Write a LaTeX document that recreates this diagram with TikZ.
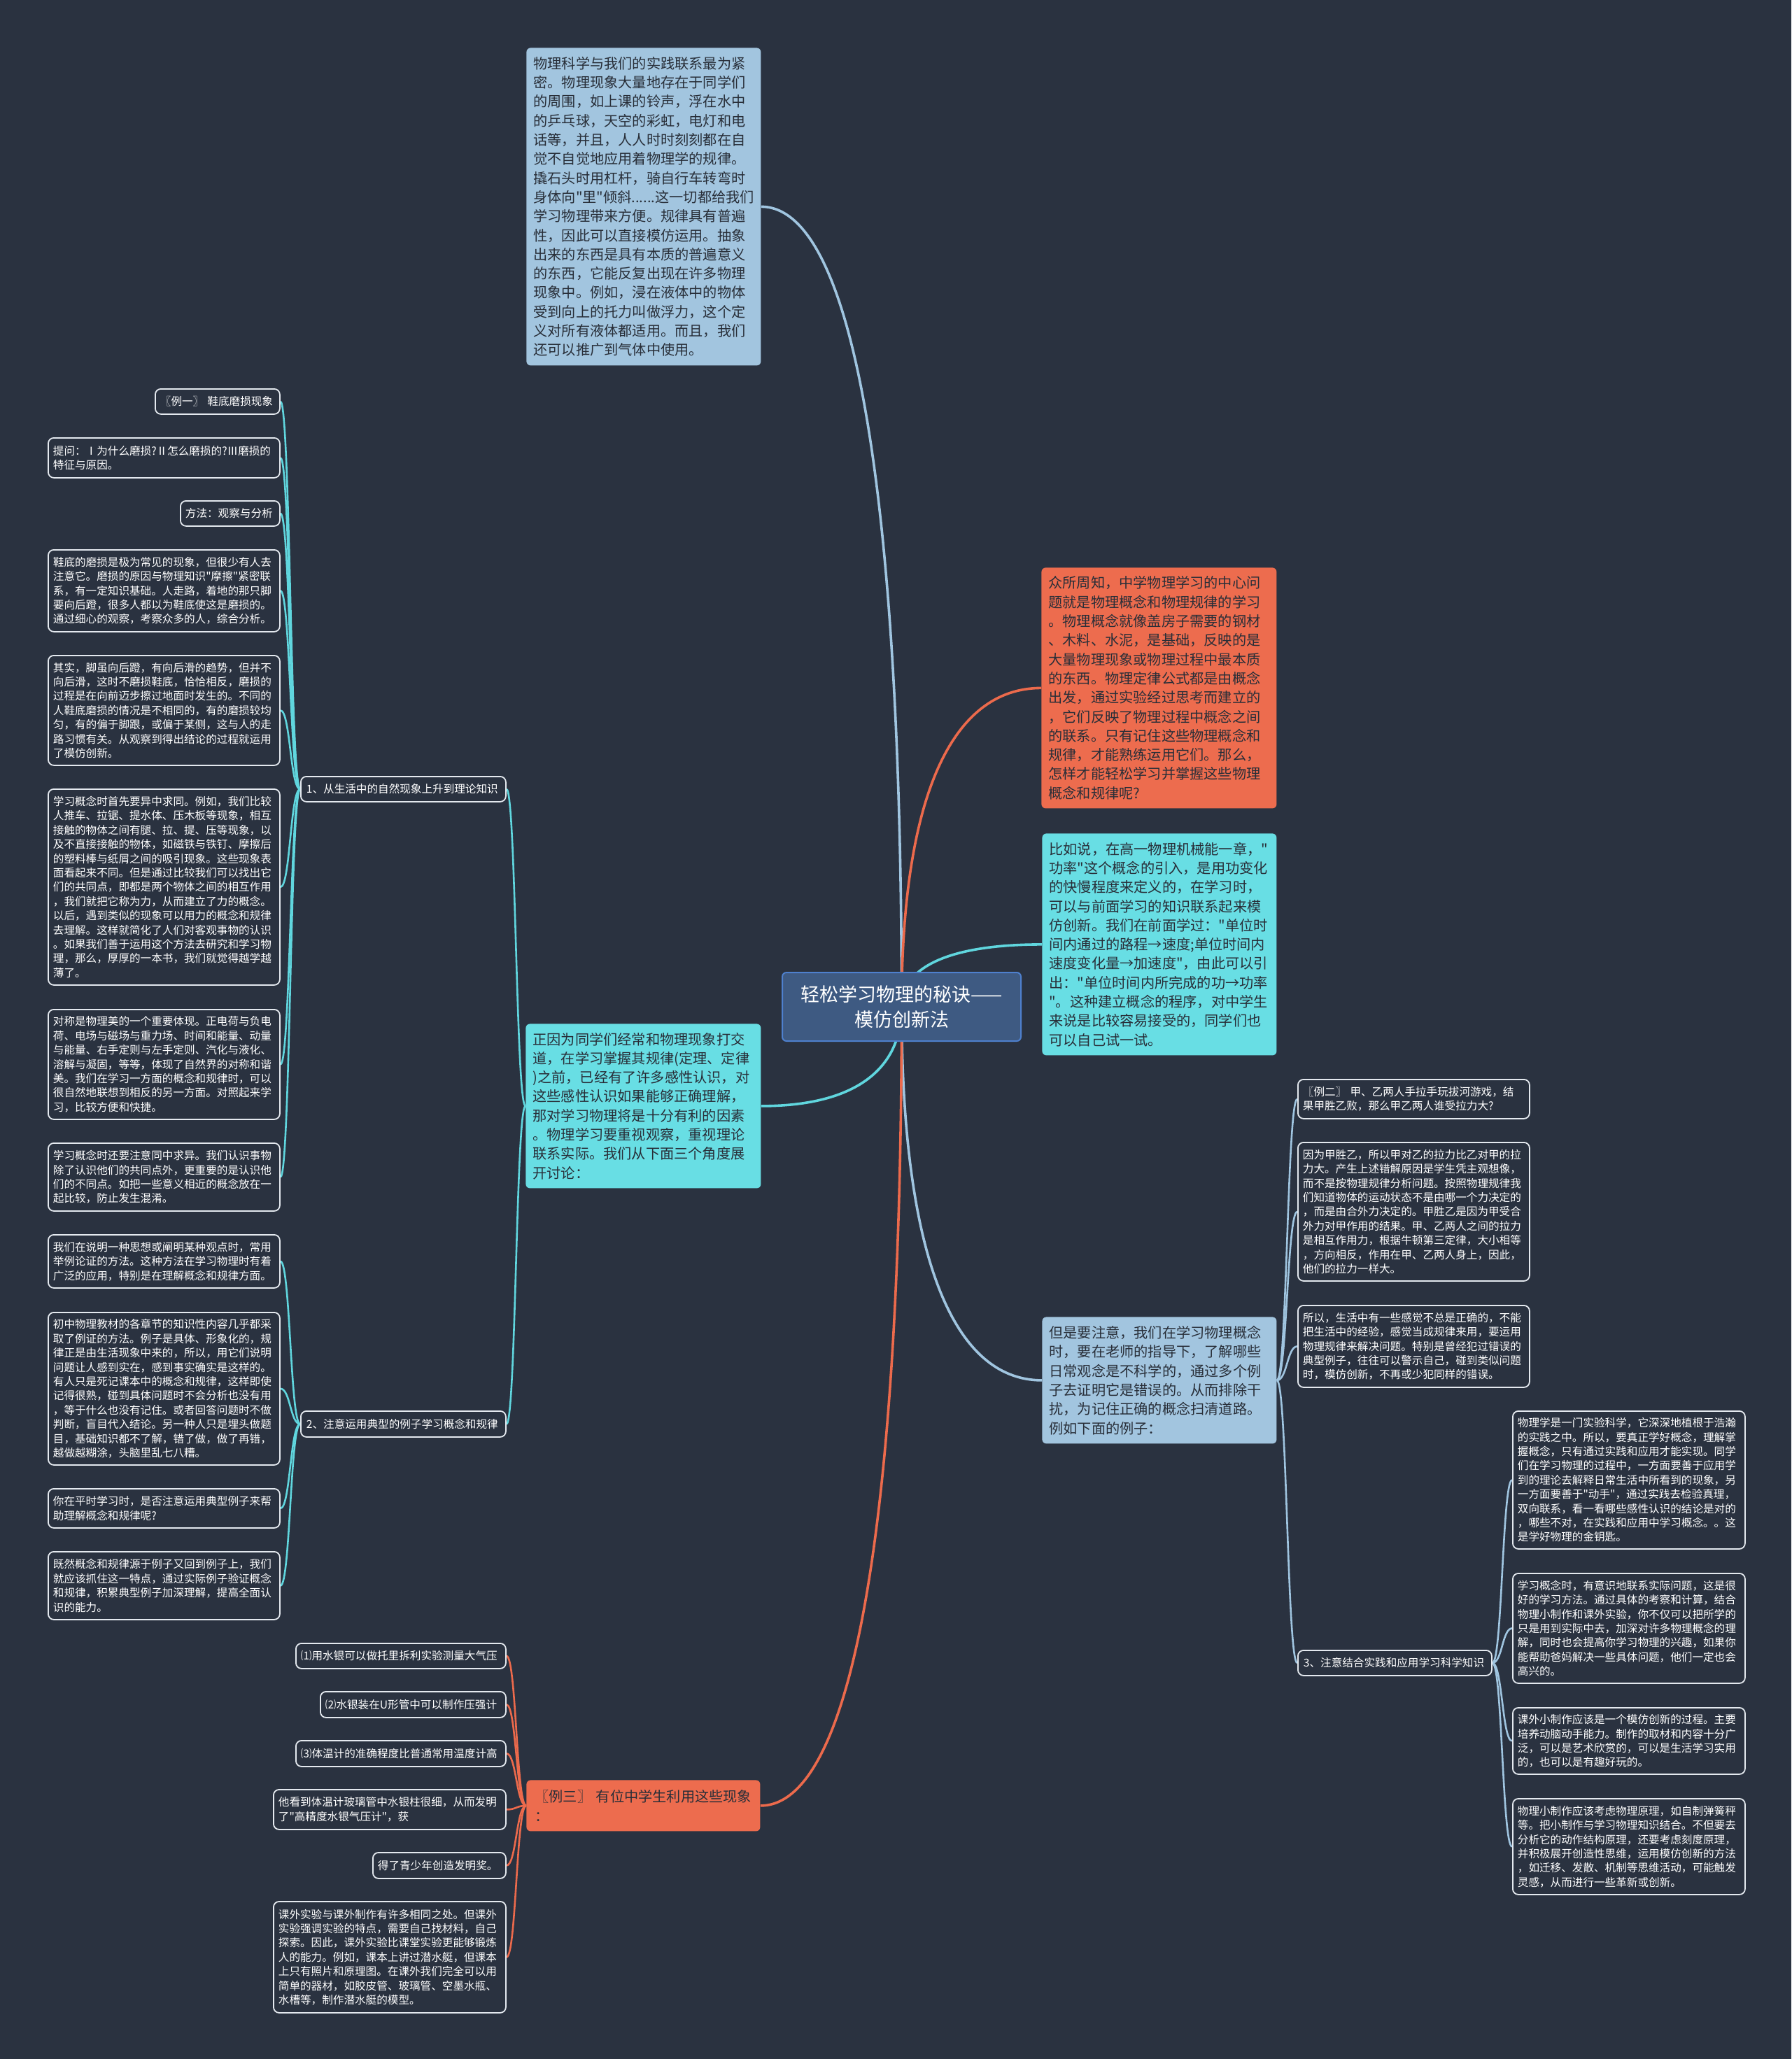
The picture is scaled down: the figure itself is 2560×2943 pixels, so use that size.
\documentclass[tikz,border=0pt]{standalone}
\usepackage{fontspec}
\newfontfamily\cjk{Noto Sans CJK SC}
\usetikzlibrary{calc}
\pgfdeclarelayer{bgl}
\pgfdeclarelayer{edges}
\pgfsetlayers{bgl,edges,main}
\definecolor{bgc}{RGB}{42,50,64}
\definecolor{lbf}{RGB}{162,197,223}
\definecolor{redf}{RGB}{237,108,78}
\definecolor{cyf}{RGB}{104,222,228}
\definecolor{rootf}{RGB}{62,90,130}
\definecolor{rootb}{RGB}{78,128,205}
\definecolor{leafb}{RGB}{228,233,239}
\definecolor{darktxt}{RGB}{40,46,56}
\definecolor{lbe}{RGB}{160,197,224}
\definecolor{cye}{RGB}{96,214,222}
\definecolor{coe}{RGB}{236,106,76}
\newcommand\leaffont{\cjk\fontsize{7.8pt}{10.2pt}\selectfont}
\newcommand\majorfont{\cjk\fontsize{10.1pt}{13.65pt}\selectfont}
\newcommand\rootfont{\cjk\fontsize{13.5pt}{18pt}\selectfont}
\newcommand\bx[8]{%
  \pgfmathsetmacro\bxw{(#6-#4)*0.5-#3}%
  \pgfmathsetmacro\bxh{(#7-#5)*0.5}%
  \pgfmathsetmacro\bxp{#3*0.5}%
  \node[#2, anchor=north west, inner xsep=\bxp pt, inner ysep=0pt, text width=\bxw pt, minimum height=\bxh pt] (#1) at (#4,#5) {#8};}
\newcommand\redge[3]{\draw[#1] let \p1=(#2), \p2=(#3) in (\p1) .. controls (\x1,{\y1+0.65*(\y2-\y1)}) and ({\x2+0.65*(\x1-\x2)},\y2) .. (\p2);}
\newcommand\ledge[3]{\draw[#1] let \p1=(#2), \p2=(#3) in (\p1) .. controls ({0.5*(\x1+\x2)},\y1) and ({0.5*(\x1+\x2)},\y2) .. (\p2);}
\tikzset{
  leafbox/.style={draw=leafb, line width=0.9pt, fill=bgc, rounded corners=4pt, text=white, font=\leaffont, align=left},
  majbase/.style={rounded corners=3pt, text=darktxt, font=\majorfont, align=left},
  majb/.style={majbase, fill=lbf},
  majr/.style={majbase, fill=redf},
  majc/.style={majbase, fill=cyf},
  rootst/.style={fill=rootf, draw=rootb, line width=1pt, rounded corners=3pt, text=white, font=\rootfont, align=center},
  rlb/.style={draw=lbe, line width=1.8pt},
  rcy/.style={draw=cye, line width=1.8pt},
  rco/.style={draw=coe, line width=1.8pt},
  llb/.style={draw=lbe, line width=1.3pt},
  lcy/.style={draw=cye, line width=1.3pt},
  lco/.style={draw=coe, line width=1.3pt}
}
\begin{document}
\begin{tikzpicture}[x=0.5pt,y=-0.5pt]
\begin{pgfonlayer}{bgl}
\fill[bgc] (0,0) rectangle (2560,2943);
\end{pgfonlayer}
\useasboundingbox (0,0) rectangle (2560,2943);

% root and main nodes
\bx{root}{rootst}{10}{1117}{1389}{1458}{1487}{轻松学习物理的秘诀——\\模仿创新法}
\bx{T}{majb}{10}{752}{68}{1087}{522}{物理科学与我们的实践联系最为紧\\密。物理现象大量地存在于同学们\\的周围，如上课的铃声，浮在水中\\的乒乓球，天空的彩虹，电灯和电\\话等，并且，人人时时刻刻都在自\\觉不自觉地应用着物理学的规律。\\撬石头时用杠杆，骑自行车转弯时\\身体向"里"倾斜......这一切都给我们\\学习物理带来方便。规律具有普遍\\性，因此可以直接模仿运用。抽象\\出来的东西是具有本质的普遍意义\\的东西，它能反复出现在许多物理\\现象中。例如，浸在液体中的物体\\受到向上的托力叫做浮力，这个定\\义对所有液体都适用。而且，我们\\还可以推广到气体中使用。}
\bx{Red}{majr}{10}{1488}{811}{1824}{1155}{众所周知，中学物理学习的中心问\\题就是物理概念和物理规律的学习\\。物理概念就像盖房子需要的钢材\\、木料、水泥，是基础，反映的是\\大量物理现象或物理过程中最本质\\的东西。物理定律公式都是由概念\\出发，通过实验经过思考而建立的\\，它们反映了物理过程中概念之间\\的联系。只有记住这些物理概念和\\规律，才能熟练运用它们。那么，\\怎样才能轻松学习并掌握这些物理\\概念和规律呢?}
\bx{CyR}{majc}{10}{1489}{1191}{1824}{1508}{比如说，在高一物理机械能一章，"\\功率"这个概念的引入，是用功变化\\的快慢程度来定义的，在学习时，\\可以与前面学习的知识联系起来模\\仿创新。我们在前面学过："单位时\\间内通过的路程→速度;单位时间内\\速度变化量→加速度"，由此可以引\\出："单位时间内所完成的功→功率\\"。这种建立概念的程序，对中学生\\来说是比较容易接受的，同学们也\\可以自己试一试。}
\bx{RB}{majb}{10}{1489}{1882}{1824}{2063}{但是要注意，我们在学习物理概念\\时，要在老师的指导下，了解哪些\\日常观念是不科学的，通过多个例\\子去证明它是错误的。从而排除干\\扰，为记住正确的概念扫清道路。\\例如下面的例子：}
\bx{LM}{majc}{10}{751}{1463}{1087}{1698}{正因为同学们经常和物理现象打交\\道，在学习掌握其规律(定理、定律\\)之前，已经有了许多感性认识，对\\这些感性认识如果能够正确理解，\\那对学习物理将是十分有利的因素\\。物理学习要重视观察，重视理论\\联系实际。我们从下面三个角度展\\开讨论：}
\bx{E3}{majr}{12}{752}{2544}{1086}{2617}{〖例三〗~有位中学生利用这些现象\\：}

% branch labels
\bx{B1}{leafbox}{8}{429}{1109}{722}{1145}{1、从生活中的自然现象上升到理论知识}
\bx{B2}{leafbox}{8}{429}{2016}{722}{2053}{2、注意运用典型的例子学习概念和规律}
\bx{B3}{leafbox}{8}{1854}{2358}{2131}{2394}{3、注意结合实践和应用学习科学知识}

% branch 1 leaves
\bx{L1a}{leafbox}{7}{221}{555}{399}{591}{〖例一〗~鞋底磨损现象}
\bx{L1b}{leafbox}{7}{68}{625}{399}{682}{提问：Ⅰ为什么磨损?Ⅱ怎么磨损的?Ⅲ磨损的\\特征与原因。}
\bx{L1c}{leafbox}{7}{257}{715}{399}{751}{方法：观察与分析}
\bx{L1d}{leafbox}{7}{68}{785}{399}{902}{鞋底的磨损是极为常见的现象，但很少有人去\\注意它。磨损的原因与物理知识"摩擦"紧密联\\系，有一定知识基础。人走路，着地的那只脚\\要向后蹬，很多人都以为鞋底使这是磨损的。\\通过细心的观察，考察众多的人，综合分析。}
\bx{L1e}{leafbox}{7}{68}{936}{399}{1093}{其实，脚虽向后蹬，有向后滑的趋势，但并不\\向后滑，这时不磨损鞋底，恰恰相反，磨损的\\过程是在向前迈步擦过地面时发生的。不同的\\人鞋底磨损的情况是不相同的，有的磨损较均\\匀，有的偏于脚跟，或偏于某侧，这与人的走\\路习惯有关。从观察到得出结论的过程就运用\\了模仿创新。}
\bx{L1f}{leafbox}{7}{68}{1127}{399}{1407}{学习概念时首先要异中求同。例如，我们比较\\人推车、拉锯、提水体、压木板等现象，相互\\接触的物体之间有腿、拉、提、压等现象，以\\及不直接接触的物体，如磁铁与铁钉、摩擦后\\的塑料棒与纸屑之间的吸引现象。这些现象表\\面看起来不同。但是通过比较我们可以找出它\\们的共同点，即都是两个物体之间的相互作用\\，我们就把它称为力，从而建立了力的概念。\\以后，遇到类似的现象可以用力的概念和规律\\去理解。这样就简化了人们对客观事物的认识\\。如果我们善于运用这个方法去研究和学习物\\理，那么，厚厚的一本书，我们就觉得越学越\\薄了。}
\bx{L1g}{leafbox}{7}{68}{1442}{399}{1599}{对称是物理美的一个重要体现。正电荷与负电\\荷、电场与磁场与重力场、时间和能量、动量\\与能量、右手定则与左手定则、汽化与液化、\\溶解与凝固，等等，体现了自然界的对称和谐\\美。我们在学习一方面的概念和规律时，可以\\很自然地联想到相反的另一方面。对照起来学\\习，比较方便和快捷。}
\bx{L1h}{leafbox}{7}{68}{1633}{399}{1730}{学习概念时还要注意同中求异。我们认识事物\\除了认识他们的共同点外，更重要的是认识他\\们的不同点。如把一些意义相近的概念放在一\\起比较，防止发生混淆。}

% branch 2 leaves
\bx{L2a}{leafbox}{7}{68}{1764}{399}{1840}{我们在说明一种思想或阐明某种观点时，常用\\举例论证的方法。这种方法在学习物理时有着\\广泛的应用，特别是在理解概念和规律方面。}
\bx{L2b}{leafbox}{7}{68}{1875}{399}{2093}{初中物理教材的各章节的知识性内容几乎都采\\取了例证的方法。例子是具体、形象化的，规\\律正是由生活现象中来的，所以，用它们说明\\问题让人感到实在，感到事实确实是这样的。\\有人只是死记课本中的概念和规律，这样即使\\记得很熟，碰到具体问题时不会分析也没有用\\，等于什么也没有记住。或者回答问题时不做\\判断，盲目代入结论。另一种人只是埋头做题\\目，基础知识都不了解，错了做，做了再错，\\越做越糊涂，头脑里乱七八糟。}
\bx{L2c}{leafbox}{7}{68}{2127}{399}{2183}{你在平时学习时，是否注意运用典型例子来帮\\助理解概念和规律呢?}
\bx{L2d}{leafbox}{7}{68}{2217}{399}{2314}{既然概念和规律源于例子又回到例子上，我们\\就应该抓住这一特点，通过实际例子验证概念\\和规律，积累典型例子加深理解，提高全面认\\识的能力。}

% example 3 leaves
\bx{L3a}{leafbox}{7}{422}{2348}{722}{2384}{⑴用水银可以做托里拆利实验测量大气压}
\bx{L3b}{leafbox}{7}{457}{2417}{722}{2454}{⑵水银装在U形管中可以制作压强计}
\bx{L3c}{leafbox}{7}{422}{2487}{722}{2524}{⑶体温计的准确程度比普通常用温度计高}
\bx{L3d}{leafbox}{7}{390}{2557}{722}{2614}{他看到体温计玻璃管中水银柱很细，从而发明\\了"高精度水银气压计"，获}
\bx{L3e}{leafbox}{7}{532}{2647}{722}{2684}{得了青少年创造发明奖。}
\bx{L3f}{leafbox}{7}{390}{2717}{722}{2876}{课外实验与课外制作有许多相同之处。但课外\\实验强调实验的特点，需要自己找材料，自己\\探索。因此，课外实验比课堂实验更能够锻炼\\人的能力。例如，课本上讲过潜水艇，但课本\\上只有照片和原理图。在课外我们完全可以用\\简单的器材，如胶皮管、玻璃管、空墨水瓶、\\水槽等，制作潜水艇的模型。}

% right leaves
\bx{R2a}{leafbox}{7}{1854}{1542}{2185}{1598}{〖例二〗~甲、乙两人手拉手玩拔河游戏，结\\果甲胜乙败，那么甲乙两人谁受拉力大?}
\bx{R2b}{leafbox}{7}{1854}{1632}{2185}{1830}{因为甲胜乙，所以甲对乙的拉力比乙对甲的拉\\力大。产生上述错解原因是学生凭主观想像，\\而不是按物理规律分析问题。按照物理规律我\\们知道物体的运动状态不是由哪一个力决定的\\，而是由合外力决定的。甲胜乙是因为甲受合\\外力对甲作用的结果。甲、乙两人之间的拉力\\是相互作用力，根据牛顿第三定律，大小相等\\，方向相反，作用在甲、乙两人身上，因此，\\他们的拉力一样大。}
\bx{R2c}{leafbox}{7}{1854}{1865}{2185}{1982}{所以，生活中有一些感觉不总是正确的，不能\\把生活中的经验，感觉当成规律来用，要运用\\物理规律来解决问题。特别是曾经犯过错误的\\典型例子，往往可以警示自己，碰到类似问题\\时，模仿创新，不再或少犯同样的错误。}
\bx{R3a}{leafbox}{7}{2161}{2016}{2493}{2213}{物理学是一门实验科学，它深深地植根于浩瀚\\的实践之中。所以，要真正学好概念，理解掌\\握概念，只有通过实践和应用才能实现。同学\\们在学习物理的过程中，一方面要善于应用学\\到的理论去解释日常生活中所看到的现象，另\\一方面要善于"动手"，通过实践去检验真理，\\双向联系，看一看哪些感性认识的结论是对的\\，哪些不对，在实践和应用中学习概念。。这\\是学好物理的金钥匙。}
\bx{R3b}{leafbox}{7}{2161}{2248}{2493}{2405}{学习概念时，有意识地联系实际问题，这是很\\好的学习方法。通过具体的考察和计算，结合\\物理小制作和课外实验，你不仅可以把所学的\\只是用到实际中去，加深对许多物理概念的理\\解，同时也会提高你学习物理的兴趣，如果你\\能帮助爸妈解决一些具体问题，他们一定也会\\高兴的。}
\bx{R3c}{leafbox}{7}{2161}{2440}{2493}{2535}{课外小制作应该是一个模仿创新的过程。主要\\培养动脑动手能力。制作的取材和内容十分广\\泛，可以是艺术欣赏的，可以是生活学习实用\\的，也可以是有趣好玩的。}
\bx{R3d}{leafbox}{7}{2161}{2570}{2493}{2707}{物理小制作应该考虑物理原理，如自制弹簧秤\\等。把小制作与学习物理知识结合。不但要去\\分析它的动作结构原理，还要考虑刻度原理，\\并积极展开创造性思维，运用模仿创新的方法\\，如迁移、发散、机制等思维活动，可能触发\\灵感，从而进行一些革新或创新。}

\begin{pgfonlayer}{edges}
\redge{rlb}{root.center}{T.east}
\redge{rco}{root.center}{Red.west}
\redge{rcy}{root.center}{CyR.west}
\redge{rlb}{root.center}{RB.west}
\redge{rcy}{root.center}{LM.east}
\redge{rco}{root.center}{E3.east}
\ledge{lcy}{LM.west}{B1.east}
\ledge{lcy}{LM.west}{B2.east}
\foreach \nm in {L1a,L1b,L1c,L1d,L1e,L1f,L1g,L1h}{\ledge{lcy}{B1.west}{\nm.east}}
\foreach \nm in {L2a,L2b,L2c,L2d}{\ledge{lcy}{B2.west}{\nm.east}}
\foreach \nm in {L3a,L3b,L3c,L3d,L3e,L3f}{\ledge{lco}{E3.west}{\nm.east}}
\foreach \nm in {R2a,R2b,R2c,B3}{\ledge{llb}{RB.east}{\nm.west}}
\foreach \nm in {R3a,R3b,R3c,R3d}{\ledge{llb}{B3.east}{\nm.west}}
\end{pgfonlayer}
\end{tikzpicture}
\end{document}
